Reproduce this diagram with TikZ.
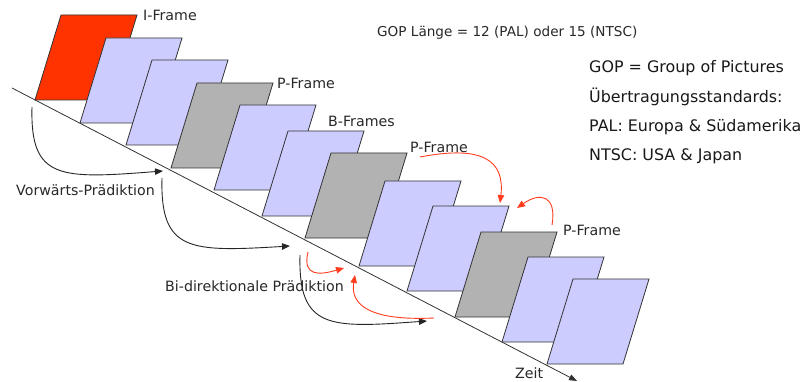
\documentclass[tikz,border=0pt]{standalone}
\usepackage{fontspec}
\setmainfont{DejaVu Sans}
\usetikzlibrary{arrows.meta}
\definecolor{iframecol}{RGB}{255,51,0}
\definecolor{bluecol}{RGB}{204,204,255}
\definecolor{graycol}{RGB}{178,178,178}
\definecolor{redarrow}{RGB}{255,60,30}
\definecolor{labcol}{RGB}{40,40,40}
\begin{document}
\begin{tikzpicture}[x=1pt,y=-1pt,
  framebox/.style={draw=black!80, line width=0.8pt, line join=miter},
  lab/.style={font=\fontsize{14.2}{16}\selectfont, text=labcol, inner sep=0pt, anchor=base west},
  info/.style={font=\fontsize{15.9}{19}\selectfont, text=black!90, inner sep=0pt, anchor=base west},
  predarrow/.style={draw=black!85, line width=0.9pt, -{Triangle[length=8pt,width=6.5pt]}},
  redarr/.style={draw=redarrow, line width=0.9pt, -{Triangle[length=8pt,width=6.5pt]}}
]
\useasboundingbox (0,0) rectangle (805,382);
\fill[white] (0,0) rectangle (805,382);

% time axis
\coordinate (ax0) at (12,88);
\coordinate (ax1) at (577,381);
\draw[draw=black!80, line width=0.8pt, -{Triangle[length=8pt,width=6pt]}] (ax0) -- (ax1);

% frames (top-left corners)
\foreach \x/\y/\c in {61/15/iframecol, 106/38/bluecol, 152/60/bluecol, 197/83/graycol,
  240/105/bluecol, 288/131/bluecol, 331/153/graycol, 385/181/bluecol,
  433/206/bluecol, 481/232/graycol, 528/257/bluecol, 573/279/bluecol} {
  \filldraw[framebox, fill=\c] (\x,\y) -- ++(76,0) -- ++(-26,85) -- ++(-76,0) -- cycle;
}

% labels
\node[lab] (lI) at (143,21) {I-Frame};
\node[lab] (lP1) at (277,89) {P-Frame};
\node[lab] (lB) at (328,127) {B-Frames};
\node[lab] (lP2) at (410,153) {P-Frame};
\node[lab] (lP3) at (563,235) {P-Frame};
\node[lab] (lV) at (16,196) {Vorwärts-Prädiktion};
\node[lab] (lBi) at (165,291) {Bi-direktionale Prädiktion};
\node[lab, font=\fontsize{13.6}{15}\selectfont] (lGOP) at (377,37) {GOP Länge = 12 (PAL) oder 15 (NTSC)};
\node[lab] (lZ) at (515,378) {Zeit};

% info text
\node[info] (i1) at (589,73) {GOP = Group of Pictures};
\node[info] (i2) at (589,103) {Übertragungsstandards:};
\node[info] (i3) at (589,132) {PAL: Europa \& Südamerika};
\node[info] (i4) at (589,161) {NTSC: USA \& Japan};

% black prediction arrows
\coordinate (b1s) at (32,107);  \coordinate (b1e) at (163,171);
\coordinate (b2s) at (162,178); \coordinate (b2e) at (290,246);
\coordinate (b3s) at (300,255); \coordinate (b3e) at (427,321);
\draw[predarrow] (b1s) .. controls (30,180) and (60,179) .. (b1e);
\draw[predarrow] (b2s) .. controls (160,252) and (190,252) .. (b2e);
\draw[predarrow] (b3s) .. controls (298,330) and (330,328) .. (b3e);

% red arrows
\coordinate (r1s) at (308,252); \coordinate (r1e) at (344,268);
\coordinate (r2s) at (434,318); \coordinate (r2e) at (355,275);
\coordinate (r3s) at (420,157); \coordinate (r3e) at (500,203);
\coordinate (r4s) at (552,225); \coordinate (r4e) at (517,208);
\draw[redarr] (r1s) .. controls (302,277) and (320,275) .. (r1e);
\draw[redarr] (r2s) .. controls (370,321) and (350,305) .. (r2e);
\draw[redarr] (r3s) .. controls (482,145) and (505,160) .. (r3e);
\draw[redarr] (r4s) .. controls (557,195) and (540,192) .. (r4e);
\end{tikzpicture}
\end{document}
